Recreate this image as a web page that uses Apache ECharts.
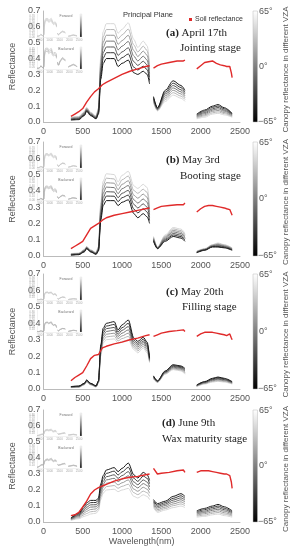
<!DOCTYPE html>
<html><head><meta charset="utf-8">
<script src="https://cdn.jsdelivr.net/npm/echarts@6/dist/echarts.min.js"></script>
<style>html,body{margin:0;padding:0;background:#fff}#c{width:294px;height:550px}</style>
</head><body><div id="c"></div>
<script>
// ---------- data ----------
const wl = [350,450,520,550,600,670,700,730,760,800,900,950,1000,1080,1150,1200,1270,1320,1350,1400,1450,1550,1650,1750,1800,1950,2050,2150,2220,2300,2400];
const vza = [-65,-43,-22,0,22,43,65];
const vzaTicks = ['65°','0°','−65°'];
const xTicks = [0,500,1000,1500,2000,2500];
const insetTicks = [500,1000,1500,2000,2500];
const panelLetters = ['(a)','(b)','(c)','(d)'];
const dates = ['April 17th','May 3rd','May 20th','June 9th'];
const stages = ['Jointing stage','Booting stage','Filling stage','Wax maturity stage'];

const specA = [
[.012,.015,.040,.068,.040,.020,.050,.27,.37,.40,.40,.35,.37,.39,.31,.30,.32,.30,.24,.16,.09,.20,.26,.23,.20,.05,.075,.10,.11,.09,.055],
[.015,.018,.044,.072,.044,.023,.057,.295,.403,.437,.437,.385,.406,.429,.345,.328,.352,.33,.262,.153,.087,.188,.245,.217,.188,.045,.068,.092,.101,.083,.051],
[.018,.022,.048,.076,.047,.026,.063,.32,.437,.473,.473,.42,.442,.468,.38,.357,.383,.36,.283,.147,.083,.177,.23,.203,.177,.04,.06,.083,.092,.075,.047],
[.021,.025,.053,.080,.051,.029,.070,.345,.47,.51,.51,.455,.478,.508,.415,.385,.415,.39,.305,.14,.08,.165,.215,.19,.165,.035,.053,.075,.083,.068,.043],
[.024,.028,.057,.084,.055,.032,.077,.37,.503,.547,.547,.49,.513,.547,.45,.413,.447,.42,.327,.133,.077,.153,.20,.177,.153,.03,.045,.067,.073,.06,.038],
[.027,.032,.061,.088,.058,.035,.083,.395,.537,.583,.583,.525,.549,.586,.485,.442,.478,.45,.348,.127,.073,.142,.185,.163,.142,.025,.038,.058,.064,.053,.034],
[.030,.035,.065,.092,.062,.038,.090,.42,.57,.62,.62,.56,.585,.625,.52,.47,.51,.48,.37,.12,.07,.13,.17,.15,.13,.02,.03,.05,.055,.045,.03]];
const specB = [
[.005,.008,.025,.045,.025,.010,.030,.22,.31,.34,.34,.31,.33,.345,.26,.235,.26,.24,.20,.09,.045,.09,.12,.11,.09,.02,.035,.055,.055,.05,.035],
[.007,.010,.028,.047,.027,.012,.035,.238,.335,.368,.367,.334,.358,.374,.288,.265,.29,.27,.218,.095,.047,.097,.129,.119,.098,.022,.037,.058,.059,.053,.038],
[.008,.011,.030,.049,.029,.014,.040,.257,.36,.395,.393,.358,.385,.403,.317,.295,.32,.30,.237,.10,.048,.103,.138,.128,.107,.023,.038,.06,.063,.057,.04],
[.010,.013,.033,.052,.032,.016,.045,.275,.385,.423,.42,.383,.413,.433,.345,.325,.35,.33,.255,.105,.05,.11,.148,.138,.115,.025,.04,.063,.068,.06,.043],
[.012,.015,.035,.054,.034,.018,.050,.293,.41,.45,.447,.407,.44,.462,.373,.355,.38,.36,.273,.11,.052,.117,.157,.147,.123,.027,.042,.065,.072,.063,.045],
[.013,.016,.038,.056,.036,.020,.055,.312,.435,.478,.473,.431,.468,.491,.402,.385,.41,.39,.292,.115,.053,.123,.166,.156,.132,.028,.043,.068,.076,.067,.048],
[.015,.018,.040,.058,.038,.022,.060,.33,.46,.505,.50,.455,.495,.52,.43,.415,.44,.42,.31,.12,.055,.13,.175,.165,.14,.03,.045,.07,.08,.07,.05]];
const specC = [
[.015,.018,.035,.055,.035,.020,.050,.27,.37,.40,.41,.36,.39,.42,.31,.29,.315,.285,.19,.08,.05,.11,.148,.14,.125,.025,.045,.065,.073,.065,.045],
[.014,.017,.033,.053,.033,.019,.048,.258,.355,.383,.393,.347,.373,.40,.298,.278,.304,.274,.185,.077,.048,.107,.143,.135,.119,.023,.043,.061,.069,.061,.043],
[.013,.015,.032,.050,.032,.017,.045,.247,.34,.367,.375,.333,.357,.38,.287,.267,.293,.263,.18,.073,.047,.103,.138,.13,.113,.022,.04,.057,.064,.057,.04],
[.012,.014,.030,.048,.030,.016,.043,.235,.325,.35,.358,.32,.34,.36,.275,.255,.283,.253,.175,.07,.045,.10,.133,.125,.108,.02,.038,.054,.06,.054,.038],
[.010,.013,.028,.045,.028,.015,.040,.223,.31,.333,.34,.307,.323,.34,.263,.243,.272,.242,.17,.067,.043,.097,.128,.12,.102,.018,.035,.05,.056,.05,.035],
[.009,.011,.027,.043,.027,.013,.038,.212,.295,.317,.323,.293,.307,.32,.252,.232,.261,.231,.165,.063,.042,.093,.123,.115,.096,.017,.033,.046,.051,.046,.033],
[.008,.010,.025,.040,.025,.012,.035,.20,.28,.30,.305,.28,.29,.30,.24,.22,.25,.22,.16,.06,.04,.09,.118,.11,.09,.015,.03,.042,.047,.042,.03]];
const specD = [
[.025,.055,.100,.120,.135,.135,.150,.24,.29,.325,.34,.315,.335,.368,.295,.275,.31,.295,.26,.14,.115,.13,.16,.177,.16,.07,.085,.10,.11,.095,.07],
[.023,.049,.089,.107,.121,.122,.137,.223,.272,.304,.318,.294,.313,.342,.273,.254,.287,.273,.24,.132,.106,.121,.148,.164,.148,.063,.077,.091,.10,.086,.063],
[.020,.043,.078,.093,.107,.108,.123,.207,.253,.283,.295,.273,.29,.315,.25,.233,.263,.25,.22,.123,.097,.112,.137,.151,.137,.057,.068,.082,.09,.077,.057],
[.018,.038,.068,.080,.093,.095,.110,.19,.235,.263,.273,.253,.268,.289,.228,.213,.24,.228,.20,.115,.088,.103,.125,.139,.125,.05,.06,.073,.08,.068,.05],
[.015,.032,.057,.067,.078,.082,.097,.173,.217,.242,.25,.232,.245,.263,.205,.192,.217,.205,.18,.107,.078,.093,.113,.126,.113,.043,.052,.063,.07,.058,.043],
[.013,.026,.046,.053,.064,.068,.083,.157,.198,.221,.228,.211,.223,.236,.183,.171,.193,.183,.16,.098,.069,.084,.102,.113,.102,.037,.043,.054,.06,.049,.037],
[.010,.020,.035,.040,.050,.055,.070,.14,.18,.20,.205,.19,.20,.21,.16,.15,.17,.16,.14,.09,.06,.075,.09,.10,.09,.03,.035,.045,.05,.04,.03]];

const soilWl = [350,400,450,500,550,600,650,700,750,800,900,1000,1100,1200,1300,1350,1400,1450,1500,1600,1700,1780,1800,1950,2000,2050,2100,2150,2200,2250,2300,2330,2350,2370,2390,2400];
const soilA = [.035,.05,.065,.085,.125,.16,.19,.21,.235,.25,.275,.30,.32,.335,.35,.355,.34,.355,.365,.375,.385,.385,.39,.335,.355,.375,.38,.385,.37,.36,.355,.35,.34,.35,.31,.28];
const soilB = [.045,.06,.075,.09,.13,.17,.185,.20,.22,.235,.25,.26,.27,.28,.29,.295,.285,.295,.305,.31,.315,.315,.325,.27,.29,.305,.31,.31,.305,.30,.295,.29,.295,.285,.28,.25];
const soilC = [.05,.07,.085,.10,.14,.185,.205,.21,.25,.26,.275,.285,.30,.31,.325,.33,.32,.33,.34,.35,.355,.36,.35,.32,.335,.345,.345,.345,.34,.335,.33,.325,.33,.335,.31,.30];
const soilD = [.04,.045,.06,.095,.13,.175,.20,.215,.225,.235,.255,.27,.28,.285,.295,.30,.335,.30,.305,.31,.32,.325,.31,.31,.32,.32,.32,.315,.31,.305,.30,.30,.295,.29,.25,.21];

// inset y-axis scale maxima [forward, backward]
const insetMax = [[0.77,0.5],[0.8,0.62],[0.97,0.9],[0.87,0.82]];

// ---------- layout ----------
const TOP = [11,142,274,410], HGT = [111,114,115,112];
const GL = 25, GW = 215;
const t1X = [166,166,166,162], t1Y = [33,160,292,423];
const t2X = [180,180,182,162], t2Y = [48,176,307,439];
const SANS = 'Liberation Sans, Arial, sans-serif';
const SERIF = 'Liberation Serif, Times New Roman, serif';

const specs = [specA,specB,specC,specD];
const soils = [soilA,soilB,soilC,soilD];
const gaps = [1375,1875];
function toPts(ws, vs){
  const out=[];
  for(let i=0;i<ws.length;i++){
    if(i>0) for(const g of gaps) if(ws[i-1]<g && ws[i]>g) out.push([g,'-']);
    out.push([ws[i], vs[i]]);
  }
  return out;
}
function grayOf(v){ const g=Math.round(25+(v+65)/130*190); const h=g.toString(16).padStart(2,'0'); return '#'+h+h+h; }
function cbFill(){ return new echarts.graphic.LinearGradient(0,0,0,1,[{offset:0,color:'#ffffff'},{offset:1,color:'#000000'}]); }

const grid=[], xAxis=[], yAxis=[], series=[], graphic=[];
for(let p=0;p<4;p++){
  const T=TOP[p], H=HGT[p];
  const gi = grid.length;
  grid.push({left:GL, top:T, width:GW, height:H});
  grid.push({left:37, top:T+3, width:42, height:23});
  grid.push({left:37, top:T+36, width:42, height:22});
  xAxis.push({type:'value', gridIndex:gi, min:0, max:2500, interval:500,
    axisLine:{show:true, lineStyle:{color:'#bbb', width:1}}, axisTick:{show:false}, splitLine:{show:false},
    axisLabel:{fontSize:9, color:'#555', margin:5, fontFamily:SANS, formatter:v=>String(v)},
    name: p===3 ? 'Wavelength(nm)' : '', nameLocation:'middle', nameGap:14,
    nameTextStyle:{fontSize:9, color:'#555', fontFamily:SANS}});
  yAxis.push({type:'value', gridIndex:gi, min:0, max:0.7, interval:0.1,
    axisLine:{show:true, lineStyle:{color:'#bbb', width:1}}, axisTick:{show:false}, splitLine:{show:false},
    axisLabel:{fontSize:9, color:'#555', margin:3, fontFamily:SANS, formatter:v=>v.toFixed(1)},
    name:'Reflectance', nameLocation:'middle', nameGap:16,
    nameTextStyle:{fontSize:9, color:'#555', fontFamily:SANS}});
  for(let s=1;s<=2;s++){
    xAxis.push({type:'value', gridIndex:gi+s, min:350, max:2500,
      axisLine:{show:true, lineStyle:{color:'#e4e4e4', width:0.5}}, axisTick:{show:false}, splitLine:{show:false},
      axisLabel:{customValues:insetTicks, fontSize:3, color:'#aaa', margin:1.5, fontFamily:SANS, formatter:v=>String(v)}});
    yAxis.push({type:'value', gridIndex:gi+s, min:0, max:insetMax[p][s-1], splitNumber:8,
      axisLine:{show:true, lineStyle:{color:'#e4e4e4', width:0.5}}, axisTick:{show:false}, splitLine:{show:false},
      axisLabel:{fontSize:3, color:'#aaa', margin:2, fontFamily:SANS, formatter:v=>v.toFixed(2), showMaxLabel:false}});
  }
  const sp = specs[p];
  for(let k=sp.length-1;k>=0;k--){
    series.push({type:'line', xAxisIndex:gi, yAxisIndex:gi, data:toPts(wl, sp[k]),
      showSymbol:false, smooth:0.3, smoothMonotone:'x', silent:true, animation:false,
      lineStyle:{width:1.0, color:grayOf(vza[k])}, z:2});
  }
  series.push({type:'line', name:'Soil reflectance', xAxisIndex:gi, yAxisIndex:gi, data:toPts(soilWl, soils[p]),
    showSymbol:false, silent:true, animation:false, color:'#e02a2a',
    lineStyle:{width:1.4, color:'#e02a2a'}, z:5});
  // insets: forward = positive VZA, backward = negative VZA
  for(let k=0;k<sp.length;k++){
    if(vza[k]===0) continue;
    const fwd = vza[k]>0;
    series.push({type:'line', xAxisIndex:gi+(fwd?1:2), yAxisIndex:gi+(fwd?1:2), data:toPts(wl, sp[k]),
      showSymbol:false, smooth:0.3, smoothMonotone:'x', silent:true, animation:false,
      lineStyle:{width:0.6, color: fwd ? '#c4c4c4' : '#b0b0b0'}, z:1});
  }
  // main colorbar
  graphic.push({type:'rect', shape:{x:253, y:T, width:4.5, height:H}, style:{fill:cbFill(), stroke:'#bbb', lineWidth:0.5}});
  graphic.push({type:'text', x:259, y:T+1, style:{text:vzaTicks[0], fontSize:9, fontFamily:SANS, fill:'#555', align:'left', verticalAlign:'middle'}});
  graphic.push({type:'text', x:259, y:T+H/2, style:{text:vzaTicks[1], fontSize:9, fontFamily:SANS, fill:'#555', align:'left', verticalAlign:'middle'}});
  graphic.push({type:'text', x:258, y:T+H, style:{text:vzaTicks[2], fontSize:9, fontFamily:SANS, fill:'#555', align:'left', verticalAlign:'middle'}});
  graphic.push({type:'text', x:286, y:T+H/2+3, rotation:Math.PI/2, style:{text:'Canopy reflectance in different VZA', fontSize:8, fontFamily:SANS, fill:'#555', align:'center', verticalAlign:'middle'}});
  // inset colorbars & labels
  graphic.push({type:'rect', shape:{x:80, y:T+3, width:1.8, height:23}, style:{fill:cbFill(), stroke:'#ccc', lineWidth:0.3}});
  graphic.push({type:'rect', shape:{x:80, y:T+36, width:1.8, height:22}, style:{fill:cbFill(), stroke:'#ccc', lineWidth:0.3}});
  graphic.push({type:'text', x:66, y:T+5, style:{text:'Forward', fontSize:3.5, fontFamily:SANS, fill:'#777', align:'center', verticalAlign:'middle'}});
  graphic.push({type:'text', x:66, y:T+38, style:{text:'Backward', fontSize:3.5, fontFamily:SANS, fill:'#777', align:'center', verticalAlign:'middle'}});
  // titles
  graphic.push({type:'text', x:t1X[p], y:t1Y[p], style:{text:'{b|'+panelLetters[p]+'} '+dates[p], fontSize:11, fontFamily:SERIF, fill:'#222', align:'left', verticalAlign:'middle', rich:{b:{fontWeight:'bold', fontSize:11, fontFamily:SERIF, fill:'#222'}}}});
  graphic.push({type:'text', x:t2X[p], y:t2Y[p], style:{text:stages[p], fontSize:11, fontFamily:SERIF, fill:'#222', align:'left', verticalAlign:'middle'}});
}
graphic.push({type:'text', x:148, y:15, style:{text:'Principal Plane', fontSize:7.5, fontFamily:SANS, fill:'#333', align:'center', verticalAlign:'middle'}});

const chart = echarts.init(document.getElementById('c'));
chart.setOption({
  animation:false,
  grid, xAxis, yAxis, series, graphic,
  legend:{data:[{name:'Soil reflectance', icon:'rect'}], left:184, top:11, itemWidth:3, itemHeight:3, itemGap:4,
    textStyle:{fontSize:7, color:'#333', fontFamily:SANS, padding:[0,0,0,-2]}, selectedMode:false}
});
</script></body></html>
